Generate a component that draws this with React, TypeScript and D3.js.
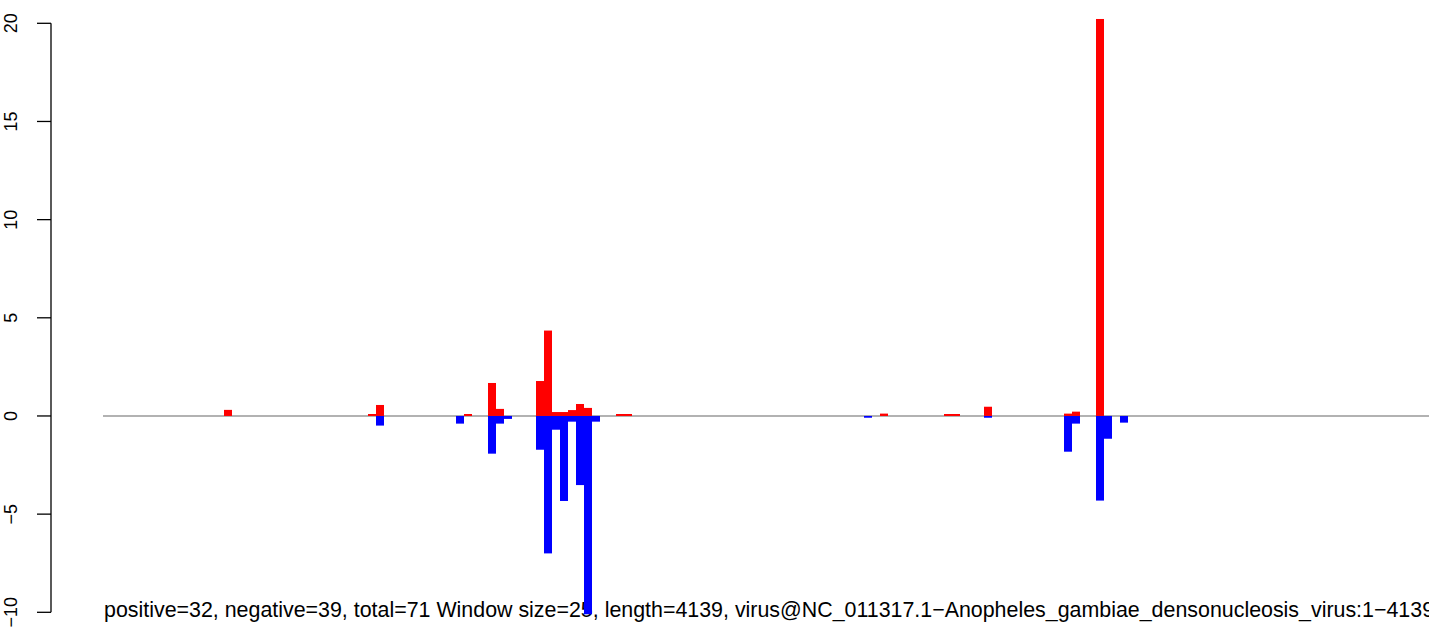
import React from 'react';
import * as d3 from 'd3';

const WIDTH = 1429;
const HEIGHT = 638;

const windowCount = 166;
const posWindows = [15, 33, 34, 45, 48, 49, 54, 55, 56, 57, 58, 59, 60, 64, 65, 97, 105, 106, 110, 120, 121, 124];
const posValues = [0.31, 0.1, 0.56, 0.1, 1.68, 0.36, 1.78, 4.35, 0.2, 0.2, 0.3, 0.61, 0.41, 0.1, 0.1, 0.12, 0.1, 0.1, 0.47, 0.12, 0.22, 20.22];
const negWindows = [34, 44, 48, 49, 50, 54, 55, 56, 57, 58, 59, 60, 61, 95, 110, 120, 121, 124, 125, 127];
const negValues = [-0.49, -0.39, -1.92, -0.39, -0.15, -1.72, -7.0, -0.7, -4.33, -0.29, -3.52, -10.1, -0.29, -0.09, -0.09, -1.82, -0.39, -4.31, -1.16, -0.34];
const yTicks = [-10, -5, 0, 5, 10, 15, 20];
const caption = 'positive=32, negative=39, total=71 Window size=25, length=4139, virus@NC_011317.1\u2212Anopheles_gambiae_densonucleosis_virus:1\u22124139';

const FONT = '"Liberation Sans", Arial, Helvetica, sans-serif';

export default function App() {
  const x = d3.scaleLinear().domain([0, windowCount]).range([104, 1432]);
  const y = d3.scaleLinear().domain([-10, 20]).range([612.3, 23.3]);
  const axisX = 51;
  const fmt = (v: number) => (v < 0 ? '\u2212' + Math.abs(v) : String(v));
  const pos = posWindows.map((w, i) => ({ w, v: posValues[i] }));
  const neg = negWindows.map((w, i) => ({ w, v: negValues[i] }));
  return (
    <svg width={WIDTH} height={HEIGHT} style={{ position: 'absolute', left: 0, top: 0, background: '#fff' }}>
      <rect x={0} y={0} width={WIDTH} height={HEIGHT} fill="#fff" />
      {/* y axis */}
      <line x1={axisX} x2={axisX} y1={y(-10)} y2={y(20)} stroke="#000" strokeWidth={1.3} />
      {yTicks.map((t) => (
        <g key={t}>
          <line x1={axisX - 14} x2={axisX} y1={y(t)} y2={y(t)} stroke="#000" strokeWidth={1.3} />
          <text
            transform={`translate(17,${y(t)}) rotate(-90)`}
            textAnchor="middle"
            fontFamily={FONT}
            fontSize={18}
            fill="#000"
          >
            {fmt(t)}
          </text>
        </g>
      ))}
      {/* caption */}
      <text x={x(0)} y={y(-10)} dy="0.22em" fontFamily={FONT} fontSize={21.4} fill="#000">
        {caption}
      </text>
      {/* zero line */}
      <line x1={x(0) - 1} x2={WIDTH} y1={y(0)} y2={y(0)} stroke="#999" strokeWidth={1.5} />
      {/* bars */}
      {pos.map((d) => (
        <rect key={'p' + d.w} x={x(d.w)} width={x(d.w + 1) - x(d.w)} y={y(d.v)} height={y(0) - y(d.v)} fill="#ff0000" />
      ))}
      {neg.map((d) => (
        <rect key={'n' + d.w} x={x(d.w)} width={x(d.w + 1) - x(d.w)} y={y(0)} height={y(d.v) - y(0)} fill="#0000ff" />
      ))}
    </svg>
  );
}
